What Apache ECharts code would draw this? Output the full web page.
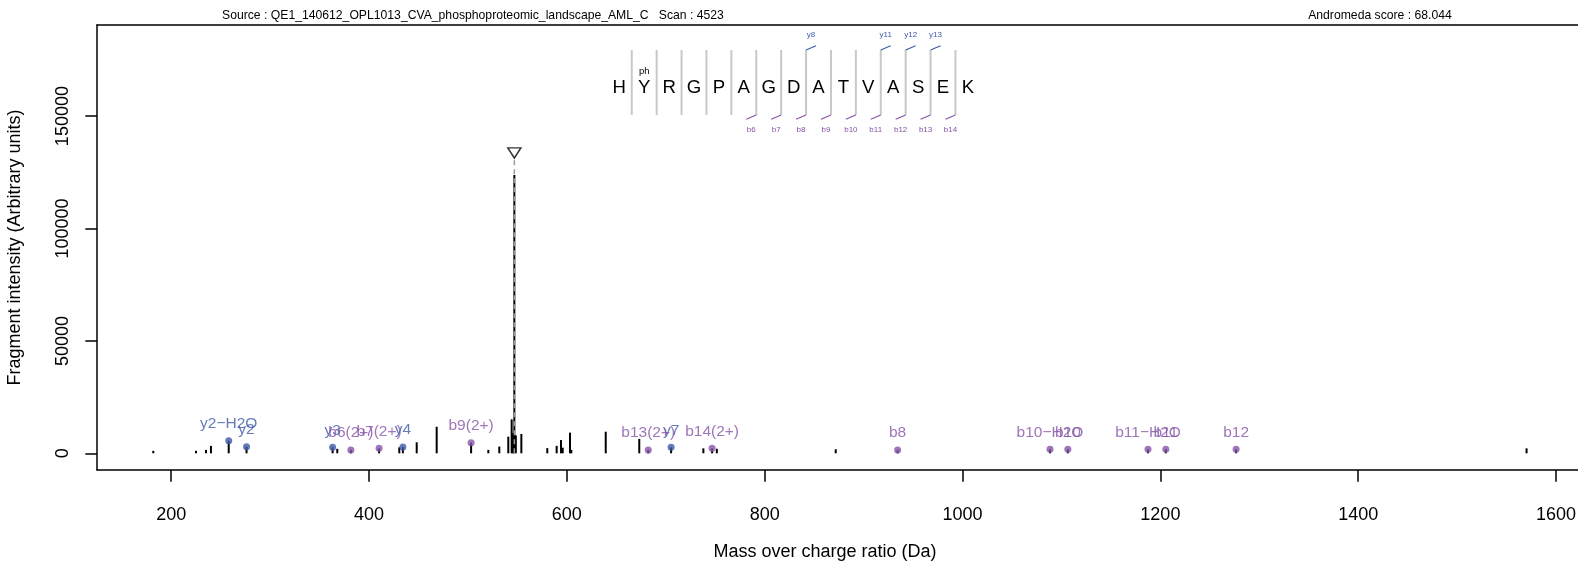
<!DOCTYPE html>
<html>
<head>
<meta charset="utf-8">
<script src="https://cdn.jsdelivr.net/npm/echarts@6/dist/echarts.min.js"></script>
<style>
  html, body { margin: 0; padding: 0; background: #fff; }
  #chart { width: 1578px; height: 567px; }
</style>
</head>
<body>
<div id="chart"></div>
<script>
// unannotated fragment peaks (m/z, intensity)
var peakMz  = [181.9, 225.1, 235.2, 240.2, 367.9, 430.6, 448.2, 468.4, 520.6, 531.7, 540.8, 544.2, 545.6, 546.91, 548.4, 554.0,
               580.2, 589.7, 594.1, 595.8, 603.2, 604.5, 639.3, 673.2, 738.0, 751.6, 871.8, 1570.2];
var peakInt = [1100, 1100, 1500, 3300, 2000, 2650, 4900, 11800, 1500, 3000, 7400, 15100, 9000, 123800, 8000, 8600,
               2300, 3300, 5900, 2500, 9200, 1500, 9600, 6400, 2200, 2000, 1800, 2200];

// annotated ions
var ionLabels = ['y2−H2O', 'y2', 'y3', 'b6(2+)', 'b7(2+)', 'y4', 'b9(2+)', 'b13(2+)', 'y7', 'b14(2+)',
                 'b8', 'b10−H2O', 'b10', 'b11−H2O', 'b11', 'b12'];
var ionMz    = [258.15, 276.16, 363.19, 381.66, 410.17, 434.22, 503.2, 682.29, 705.38, 746.82,
                934.36, 1088.43, 1106.44, 1187.5, 1205.51, 1276.55];
var ionInt   = [5600, 2950, 2650, 1470, 2200, 2800, 4700, 1500, 2650, 2200,
                1500, 1800, 1800, 1800, 1800, 1800];

// precursor
var precursorMz = 546.91;
var precursorMark = 133600;

// sequence panel
var sequence = ['H', 'Y', 'R', 'G', 'P', 'A', 'G', 'D', 'A', 'T', 'V', 'A', 'S', 'E', 'K'];
var bIons = [6, 7, 8, 9, 10, 11, 12, 13, 14];
var yIons = [8, 11, 12, 13];

var xTicks = [200, 400, 600, 800, 1000, 1200, 1400, 1600];
var yTicks = [0, 50000, 100000, 150000];

var sourceText = 'Source : QE1_140612_OPL1013_CVA_phosphoproteomic_landscape_AML_C   Scan : 4523';
var scoreText = 'Andromeda score : 68.044';
var xTitle = 'Mass over charge ratio (Da)';
var yTitle = 'Fragment intensity (Arbitrary units)';

(function () {
    var FONT = 'Liberation Sans, Arial, sans-serif';
    var Y_COLOR = '#3f5aa8';
    var B_COLOR = '#8654a8';
    var X_MIN = 125.0, X_MAX = 1622.2;

    var chart = echarts.init(document.getElementById('chart'), null, { renderer: 'canvas' });

    // stems drawn through the axes
    function stems(data, color, width, dash, z) {
        return {
            type: 'custom',
            silent: true,
            z: z,
            encode: { x: 0, y: 1 },
            data: data,
            renderItem: function (params, api) {
                var p0 = api.coord([api.value(0), 0]);
                var p1 = api.coord([api.value(0), api.value(1)]);
                return {
                    type: 'line',
                    shape: { x1: p0[0], y1: p0[1], x2: p1[0], y2: p1[1] },
                    style: { stroke: color, lineWidth: width, lineDash: dash || null }
                };
            }
        };
    }

    var blackData = peakMz.map(function (m, i) { return [m, peakInt[i]]; });
    var ionStemData = ionMz.map(function (m, i) { return [m, ionInt[i]]; });

    function ionPoints(kind) {
        var out = [];
        ionLabels.forEach(function (lab, i) {
            if (lab.charAt(0) === kind) out.push([ionMz[i], ionInt[i], lab]);
        });
        return out;
    }

    function ionSeries(kind, color) {
        return {
            type: 'scatter',
            symbol: 'circle',
            symbolSize: 7,
            z: 5,
            silent: true,
            itemStyle: { color: color },
            label: {
                show: true,
                position: 'top',
                distance: 5.5,
                color: color,
                fontFamily: FONT,
                fontSize: 15.5,
                formatter: function (p) { return p.value[2]; }
            },
            data: ionPoints(kind)
        };
    }

    // sequence graphic
    var seqX0 = 619.3, seqStep = 24.9, seqY = 88.3;
    var graphics = [];
    sequence.forEach(function (aa, i) {
        graphics.push({
            type: 'text', x: seqX0 + i * seqStep, y: seqY,
            style: { text: aa, fill: '#000', font: '18.6px ' + FONT, textAlign: 'center', textVerticalAlign: 'middle' }
        });
        if (i < sequence.length - 1) {
            var sx = seqX0 + i * seqStep + seqStep / 2;
            graphics.push({
                type: 'line', shape: { x1: sx, y1: 50, x2: sx, y2: 115 },
                style: { stroke: '#c8c8c8', lineWidth: 2 }
            });
        }
    });
    graphics.push({
        type: 'text', x: seqX0 + seqStep, y: 71.7,
        style: { text: 'ph', fill: '#000', font: '9.5px ' + FONT, textAlign: 'center', textVerticalAlign: 'middle' }
    });
    bIons.forEach(function (n) {
        var sx = seqX0 + (n - 1) * seqStep + seqStep / 2;
        graphics.push({ type: 'line', shape: { x1: sx, y1: 115, x2: sx - 10, y2: 119.3 }, style: { stroke: B_COLOR, lineWidth: 1.2 } });
        graphics.push({
            type: 'text', x: sx - 5, y: 129.3,
            style: { text: 'b' + n, fill: B_COLOR, font: '8px ' + FONT, textAlign: 'center', textVerticalAlign: 'middle' }
        });
    });
    yIons.forEach(function (n) {
        var sx = seqX0 + (n - 1) * seqStep + seqStep / 2;
        graphics.push({ type: 'line', shape: { x1: sx, y1: 50, x2: sx + 10, y2: 45.7 }, style: { stroke: Y_COLOR, lineWidth: 1.2 } });
        graphics.push({
            type: 'text', x: sx + 5, y: 35,
            style: { text: 'y' + n, fill: Y_COLOR, font: '8px ' + FONT, textAlign: 'center', textVerticalAlign: 'middle' }
        });
    });
    // header
    graphics.push({
        type: 'text', x: 222, y: 16,
        style: { text: sourceText, fill: '#000', font: '12.2px ' + FONT, textAlign: 'left', textVerticalAlign: 'middle' }
    });
    graphics.push({
        type: 'text', x: 1380, y: 16,
        style: { text: scoreText, fill: '#000', font: '12.2px ' + FONT, textAlign: 'center', textVerticalAlign: 'middle' }
    });
    // x axis title (R centres it on its own, wider plot region)
    graphics.push({
        type: 'text', x: 825, y: 552.5,
        style: { text: xTitle, fill: '#000', font: '18px ' + FONT, textAlign: 'center', textVerticalAlign: 'middle' }
    });

    function plain(v) { return String(v); }
    var boxLine = { show: true, onZero: false, lineStyle: { color: '#000', width: 1.5 } };

    var option = {
        animation: false,
        backgroundColor: '#fff',
        textStyle: { fontFamily: FONT },
        grid: { left: 97, top: 25, right: 0, bottom: 97, outerBoundsMode: 'none', containLabel: false },
        xAxis: [{
            type: 'value',
            min: X_MIN, max: X_MAX,
            axisLine: boxLine,
            splitLine: { show: false },
            axisTick: { show: true, length: 11.7, customValues: xTicks, lineStyle: { color: '#000', width: 1.5 } },
            axisLabel: { customValues: xTicks, margin: 36, fontSize: 18, color: '#000', fontFamily: FONT, formatter: plain }
        }, {
            // top edge of the box
            type: 'value',
            position: 'top',
            min: X_MIN, max: X_MAX,
            axisLine: boxLine,
            splitLine: { show: false },
            axisTick: { show: false },
            axisLabel: { show: false }
        }],
        yAxis: {
            type: 'value',
            min: -7430, max: 190525,
            name: yTitle,
            nameLocation: 'middle',
            nameGap: 73,
            nameTextStyle: { fontSize: 18, color: '#000', fontFamily: FONT },
            axisLine: boxLine,
            splitLine: { show: false },
            axisTick: { show: true, length: 11.7, customValues: yTicks, lineStyle: { color: '#000', width: 1.5 } },
            axisLabel: { customValues: yTicks, rotate: 90, margin: 25, fontSize: 18, color: '#000', fontFamily: FONT, formatter: plain }
        },
        graphic: graphics,
        series: [
            stems(blackData, '#000', 2, null, 2),
            stems(ionStemData, '#000', 2, null, 2),
            stems([[precursorMz, 131200]], '#9a9a9a', 1.5, [5, 4], 3),
            ionSeries('y', Y_COLOR),
            ionSeries('b', B_COLOR),
            {
                type: 'scatter',
                silent: true,
                z: 6,
                symbol: 'path://M0,0 L10,0 L5,8 Z',
                symbolSize: [13, 10],
                itemStyle: { color: 'rgba(0,0,0,0)', borderColor: '#000', borderWidth: 1.5 },
                data: [[precursorMz, precursorMark]]
            }
        ]
    };

    chart.setOption(option);
    window.addEventListener('resize', function () {
        chart.resize();
    });
})();
</script>
</body>
</html>
